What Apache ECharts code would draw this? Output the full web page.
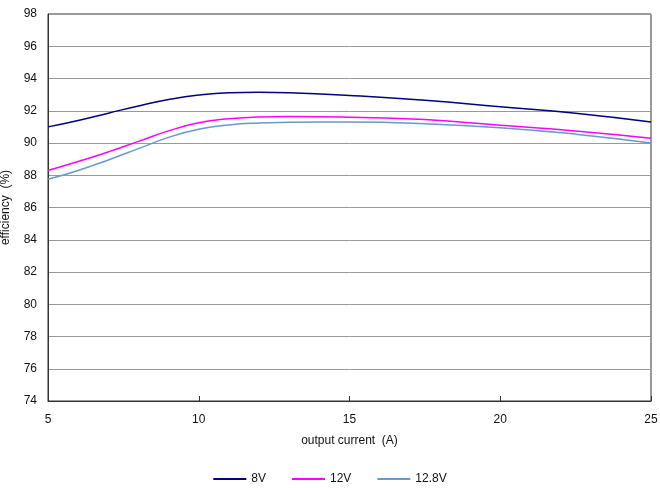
<!DOCTYPE html>
<html><head><meta charset="utf-8">
<script src="https://cdn.jsdelivr.net/npm/echarts@6/dist/echarts.min.js"></script>
<style>html,body{margin:0;padding:0;background:#fff}#c{width:660px;height:488px}</style>
</head><body><div id="c"></div>
<script>
const currents = [5, 6, 7, 8, 9, 10, 11, 12, 13, 15, 17.5, 20, 22.5, 25];
const eff8V   = [91.0, 91.4, 91.85, 92.3, 92.7, 92.98, 93.12, 93.15, 93.12, 92.95, 92.65, 92.25, 91.85, 91.3];
const eff12V  = [88.3, 88.85, 89.45, 90.1, 90.75, 91.25, 91.5, 91.62, 91.65, 91.6, 91.45, 91.1, 90.75, 90.3];
const eff128V = [87.75, 88.3, 88.95, 89.65, 90.35, 90.85, 91.12, 91.24, 91.28, 91.3, 91.2, 90.95, 90.55, 90.0];
const seriesNames = ['8V', '12V', '12.8V'];
const xTicks = [5, 10, 15, 20, 25];
const yTicks = [74, 76, 78, 80, 82, 84, 86, 88, 90, 92, 94, 96, 98];

const colors = ['#000080', '#ff00ff', '#6699cc'];
const font = 'Liberation Sans, Arial, sans-serif';
const pair = (xs, ys) => xs.map((x, i) => [x, ys[i]]);
const chart = echarts.init(document.getElementById('c'));
const mk = (i, ys) => ({
  name: seriesNames[i], type: 'line', smooth: 0.5, symbol: 'none',
  data: pair(currents, ys), lineStyle: {color: colors[i], width: 1.5}, itemStyle: {color: colors[i]}
});
chart.setOption({
  animation: false,
  grid: {left: 48, right: 9, top: 14, bottom: 87, show: true, borderColor: '#333', borderWidth: 1, outerBoundsMode: 'none', containLabel: false},
  legend: {
    top: 468, left: 'center', icon: 'rect', itemWidth: 33, itemHeight: 2, itemGap: 26,
    textStyle: {fontFamily: font, fontSize: 12, color: '#111'},
    data: seriesNames
  },
  xAxis: {
    type: 'value', min: xTicks[0], max: xTicks[xTicks.length - 1], interval: 5,
    name: 'output current  (A)', nameLocation: 'middle', nameGap: 34,
    nameTextStyle: {fontFamily: font, fontSize: 12, color: '#111'},
    axisLine: {lineStyle: {color: '#333'}},
    axisTick: {inside: true, length: 5, lineStyle: {color: '#333'}},
    axisLabel: {fontFamily: font, fontSize: 12, color: '#111', margin: 13},
    splitLine: {show: false}
  },
  yAxis: {
    type: 'value', min: yTicks[0], max: yTicks[yTicks.length - 1], interval: 2,
    name: 'efficiency  (%)', nameLocation: 'middle', nameGap: 36, nameMoveOverlap: false,
    nameTextStyle: {fontFamily: font, fontSize: 12, color: '#111', padding: [12, 0, 0, 0]},
    axisLine: {show: true, lineStyle: {color: '#333'}},
    axisTick: {show: false},
    axisLabel: {fontFamily: font, fontSize: 12, color: '#111', margin: 11},
    splitLine: {show: true, lineStyle: {color: '#999', width: 1}}
  },
  series: [mk(0, eff8V), mk(1, eff12V), mk(2, eff128V)]
});
</script></body></html>
